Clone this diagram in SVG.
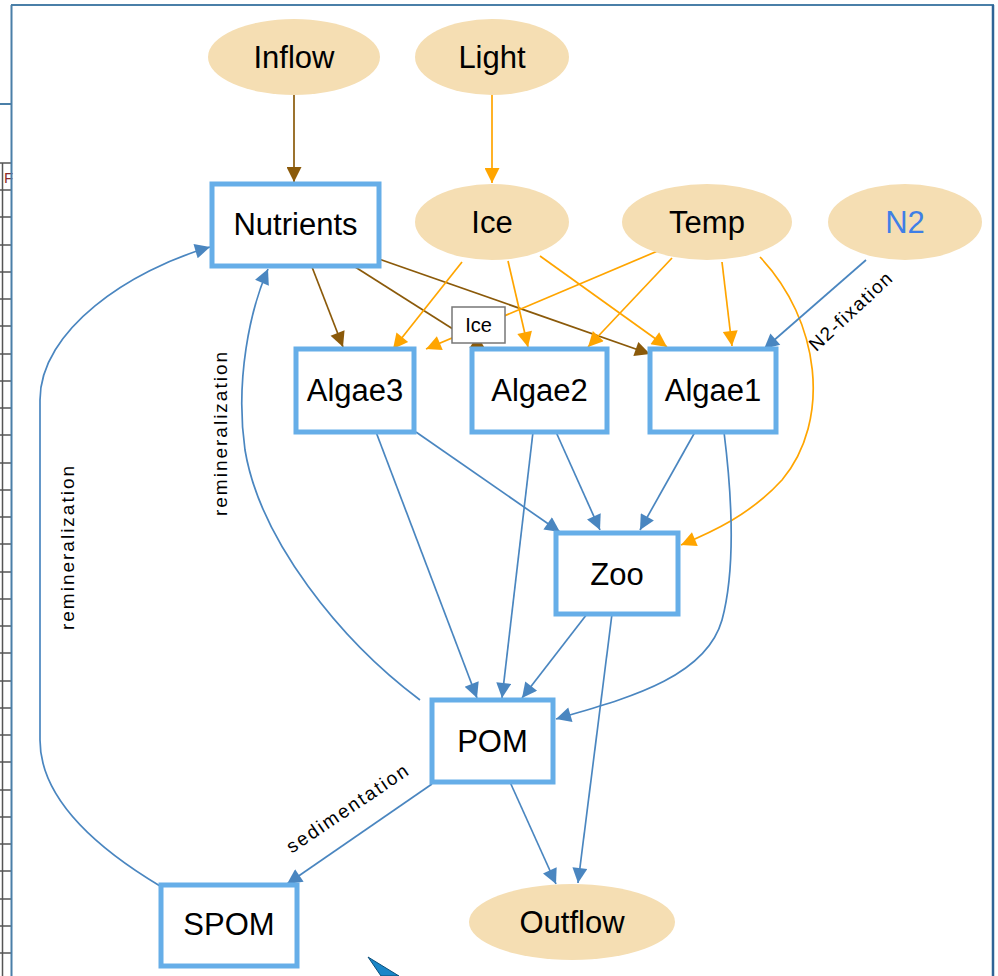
<svg xmlns="http://www.w3.org/2000/svg" width="998" height="976" viewBox="0 0 998 976">
<style>
.ell{fill:#f5deb3;stroke:none}
.box{fill:#fff;stroke:#66aee8;stroke-width:5}
.t{font-family:"Liberation Sans",Arial,sans-serif;font-size:31px;fill:#000;text-anchor:middle;dominant-baseline:central}
.lbl{font-family:"Liberation Sans",Arial,sans-serif;font-size:19px;fill:#000;text-anchor:middle;dominant-baseline:central;letter-spacing:2px}
.e{fill:none;stroke-width:1.7}
.br{stroke:#8b5a0a;marker-end:url(#ab)}
.or{stroke:#ffa500;marker-end:url(#ao)}
.bl{stroke:#4a86c0;marker-end:url(#ac)}
.grid{stroke:#555;stroke-width:1.5}
</style>
<defs>
<marker id="ab" viewBox="0 0 10 10" refX="10" refY="5" markerWidth="20" markerHeight="15" markerUnits="userSpaceOnUse" orient="auto"><path d="M0,0 L10,5 L0,10 z" fill="#8b5a0a"/></marker>
<marker id="ao" viewBox="0 0 10 10" refX="10" refY="5" markerWidth="20" markerHeight="15" markerUnits="userSpaceOnUse" orient="auto"><path d="M0,0 L10,5 L0,10 z" fill="#ffa500"/></marker>
<marker id="ac" viewBox="0 0 10 10" refX="10" refY="5" markerWidth="20" markerHeight="15" markerUnits="userSpaceOnUse" orient="auto"><path d="M0,0 L10,5 L0,10 z" fill="#4a86c0"/></marker>
</defs>
<rect width="998" height="976" fill="#fff"/>
<g id="background">
<line x1="0" y1="104" x2="11" y2="104" stroke="#4a7fa8" stroke-width="2"/>
<line x1="2.5" y1="163" x2="2.5" y2="976" class="grid"/>
<g class="grid">
<line x1="0" y1="163" x2="11" y2="163"/><line x1="0" y1="190" x2="11" y2="190"/><line x1="0" y1="217" x2="11" y2="217"/><line x1="0" y1="245" x2="11" y2="245"/><line x1="0" y1="272" x2="11" y2="272"/><line x1="0" y1="299" x2="11" y2="299"/><line x1="0" y1="326" x2="11" y2="326"/><line x1="0" y1="354" x2="11" y2="354"/><line x1="0" y1="381" x2="11" y2="381"/><line x1="0" y1="408" x2="11" y2="408"/><line x1="0" y1="435" x2="11" y2="435"/><line x1="0" y1="463" x2="11" y2="463"/><line x1="0" y1="490" x2="11" y2="490"/><line x1="0" y1="517" x2="11" y2="517"/><line x1="0" y1="544" x2="11" y2="544"/><line x1="0" y1="572" x2="11" y2="572"/><line x1="0" y1="599" x2="11" y2="599"/><line x1="0" y1="626" x2="11" y2="626"/><line x1="0" y1="653" x2="11" y2="653"/><line x1="0" y1="681" x2="11" y2="681"/><line x1="0" y1="708" x2="11" y2="708"/><line x1="0" y1="735" x2="11" y2="735"/><line x1="0" y1="762" x2="11" y2="762"/><line x1="0" y1="790" x2="11" y2="790"/><line x1="0" y1="817" x2="11" y2="817"/><line x1="0" y1="844" x2="11" y2="844"/><line x1="0" y1="871" x2="11" y2="871"/><line x1="0" y1="899" x2="11" y2="899"/><line x1="0" y1="926" x2="11" y2="926"/><line x1="0" y1="953" x2="11" y2="953"/>
</g>
<text x="4" y="183" font-family="Liberation Sans,Arial,sans-serif" font-size="15" fill="#8b2a2a">F</text>
<line x1="11" y1="5" x2="994" y2="5" stroke="#4a7fa8" stroke-width="2"/>
<line x1="11.5" y1="5" x2="11.5" y2="976" stroke="#4a7fa8" stroke-width="2"/>
<line x1="993" y1="5" x2="993" y2="976" stroke="#2f6496" stroke-width="2.5"/>
</g>
<g id="edges">
<path class="e br" d="M294,95 L294,182"/>
<path class="e or" d="M492,95 L492,183"/>
<path class="e br" d="M312,267 L343,347"/>
<path class="e br" d="M352,265 L486,350"/>
<path class="e br" d="M376,258 L650,354"/>
<path class="e or" d="M462,262 L393,349"/>
<path class="e or" d="M508,261 L528,347"/>
<path class="e or" d="M540,256 L667,347"/>
<path class="e or" d="M660,250 L426,349"/>
<path class="e or" d="M672,258 L588,347"/>
<path class="e or" d="M722,262 L732,346"/>
<path class="e or" d="M760,257 C820,320 832,420 782,480 C750,515 712,532 681,545"/>
<path class="e bl" d="M866,260 L764,349"/>
<path class="e bl" d="M416,432 L560,532"/>
<path class="e bl" d="M376,432 L477,698"/>
<path class="e bl" d="M556,432 L600,530"/>
<path class="e bl" d="M533,432 L502,698"/>
<path class="e bl" d="M695,432 L640,530"/>
<path class="e bl" d="M724,432 C730,480 738,560 722,620 C705,680 620,700 556,719"/>
<path class="e bl" d="M587,614 L522,698"/>
<path class="e bl" d="M612,614 L578,883"/>
<path class="e bl" d="M510,782 L556,884"/>
<path class="e bl" d="M432,784 L287,884"/>
<path class="e bl" d="M420,700 C340,640 260,540 245,450 C235,380 250,310 268,269"/>
<path class="e bl" d="M160,886 C100,850 40,800 40,740 L40,400 C40,330 130,270 210,247"/>
<text class="lbl" transform="translate(220,433) rotate(-90)">remineralization</text>
<text class="lbl" transform="translate(67,547) rotate(-90)">remineralization</text>
<text class="lbl" transform="translate(348,808) rotate(-34)">sedimentation</text>
<text class="lbl" style="letter-spacing:1.5px" transform="translate(851,311) rotate(-43)">N2-fixation</text>
</g>
<g id="Inflow"><ellipse class="ell" cx="294" cy="57" rx="86" ry="38"/><text class="t" x="294" y="57">Inflow</text></g>
<g id="Light"><ellipse class="ell" cx="492" cy="57" rx="77" ry="38"/><text class="t" x="492" y="57">Light</text></g>
<g id="Ice"><ellipse class="ell" cx="492" cy="222" rx="77" ry="38"/><text class="t" x="492" y="222">Ice</text></g>
<g id="Temp"><ellipse class="ell" cx="707" cy="222" rx="85" ry="38"/><text class="t" x="707" y="222">Temp</text></g>
<g id="N2"><ellipse class="ell" cx="905" cy="222" rx="77" ry="38"/><text class="t" x="905" y="222" style="fill:#3f7fe6">N2</text></g>
<g id="Outflow"><ellipse class="ell" cx="572" cy="922" rx="103" ry="38"/><text class="t" x="572" y="922">Outflow</text></g>
<g id="Nutrients"><rect class="box" x="212" y="184" width="167" height="82"/><text class="t" x="295.5" y="224">Nutrients</text></g>
<g id="Algae3"><rect class="box" x="296" y="349" width="118" height="83"/><text class="t" x="355" y="390">Algae3</text></g>
<g id="Algae2"><rect class="box" x="472" y="349" width="135" height="83"/><text class="t" x="539.5" y="390">Algae2</text></g>
<g id="Algae1"><rect class="box" x="650" y="349" width="126" height="83"/><text class="t" x="713" y="390">Algae1</text></g>
<g id="Zoo"><rect class="box" x="556" y="533" width="122" height="81"/><text class="t" x="617" y="574">Zoo</text></g>
<g id="POM"><rect class="box" x="432" y="700" width="121" height="82"/><text class="t" x="492.5" y="741">POM</text></g>
<g id="SPOM"><rect class="box" x="161" y="885" width="136" height="81"/><text class="t" x="229" y="924">SPOM</text></g>
<g id="IceLabel"><rect x="452" y="307" width="53" height="36" fill="#fff" stroke="#777" stroke-width="1.5"/><text x="478.5" y="325" font-family="Liberation Sans,Arial,sans-serif" font-size="20" text-anchor="middle" dominant-baseline="central">Ice</text></g>
<g id="cursor"><polygon points="368,957 399,976 381,976" fill="#1a86c8" stroke="#0b4f7a" stroke-width="1"/></g>
</svg>
